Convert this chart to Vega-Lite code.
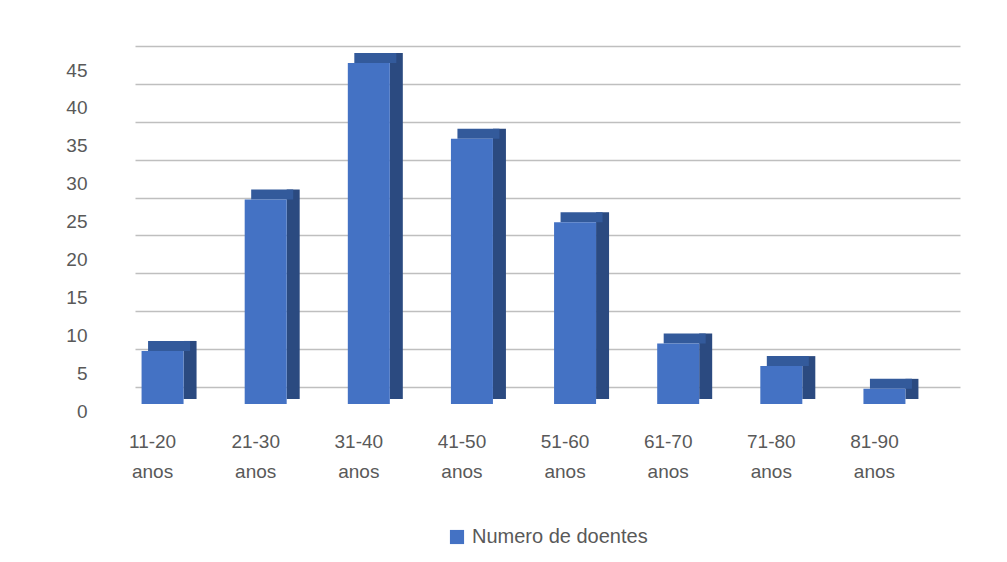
{
  "$schema": "https://vega.github.io/schema/vega-lite/v6.json",
  "autosize": "none",
  "width": 825,
  "height": 341,
  "padding": {"left": 135, "top": 46, "right": 47, "bottom": 175},
  "background": "white",
  "config": {
    "view": {"stroke": null},
    "font": "Liberation Sans",
    "legend": {"layout": {"bottom": {"anchor": "middle"}}}
  },
  "data": {
    "values": [
      {"faixa": "11-20 anos", "doentes": 7, "serie": "Numero de doentes"},
      {"faixa": "21-30 anos", "doentes": 27, "serie": "Numero de doentes"},
      {"faixa": "31-40 anos", "doentes": 45, "serie": "Numero de doentes"},
      {"faixa": "41-50 anos", "doentes": 35, "serie": "Numero de doentes"},
      {"faixa": "51-60 anos", "doentes": 24, "serie": "Numero de doentes"},
      {"faixa": "61-70 anos", "doentes": 8, "serie": "Numero de doentes"},
      {"faixa": "71-80 anos", "doentes": 5, "serie": "Numero de doentes"},
      {"faixa": "81-90 anos", "doentes": 2, "serie": "Numero de doentes"}
    ]
  },
  "encoding": {
    "x": {
      "field": "faixa",
      "type": "nominal",
      "sort": null,
      "scale": {"paddingInner": 0, "paddingOuter": 0},
      "axis": {
        "title": null,
        "labelAngle": 0,
        "domain": false,
        "ticks": false,
        "labelPadding": 45,
        "labelOffset": -34,
        "labelFontSize": 19,
        "labelColor": "#595959",
        "labelLineHeight": 30,
        "labelExpr": "split(datum.value, ' ')"
      }
    },
    "y": {
      "field": "doentes",
      "type": "quantitative",
      "scale": {"domain": [0, 45], "nice": false},
      "axis": {
        "title": null,
        "values": [0, 5, 10, 15, 20, 25, 30, 35, 40, 45],
        "domain": false,
        "ticks": false,
        "labelPadding": 48,
        "labelOffset": 24,
        "labelFontSize": 19,
        "labelColor": "#595959",
        "gridColor": "#bfbfbf",
        "gridWidth": 1.6
      }
    }
  },
  "layer": [
    {
      "mark": {"type": "bar", "color": "#2b4a80", "width": 13, "xOffset": 3.5, "yOffset": 7, "y2Offset": 12},
      "encoding": {"y2": {"datum": 0}}
    },
    {
      "mark": {"type": "bar", "color": "#335a9b", "width": 42, "xOffset": -17.5, "yOffset": 7, "y2Offset": 17},
      "encoding": {"y2": {"field": "doentes"}}
    },
    {
      "mark": {"type": "bar", "width": 42, "xOffset": -24, "yOffset": 17, "y2Offset": 17},
      "encoding": {
        "y2": {"datum": 0},
        "color": {
          "field": "serie",
          "type": "nominal",
          "scale": {"range": ["#4472c4"]},
          "legend": {
            "title": null,
            "orient": "bottom",
            "direction": "horizontal",
            "symbolType": "square",
            "symbolSize": 200,
            "symbolStrokeWidth": 0,
            "labelFontSize": 20,
            "labelLimit": 500,
            "labelOffset": 5,
            "labelColor": "#595959",
            "offset": 46
          }
        }
      }
    }
  ]
}
